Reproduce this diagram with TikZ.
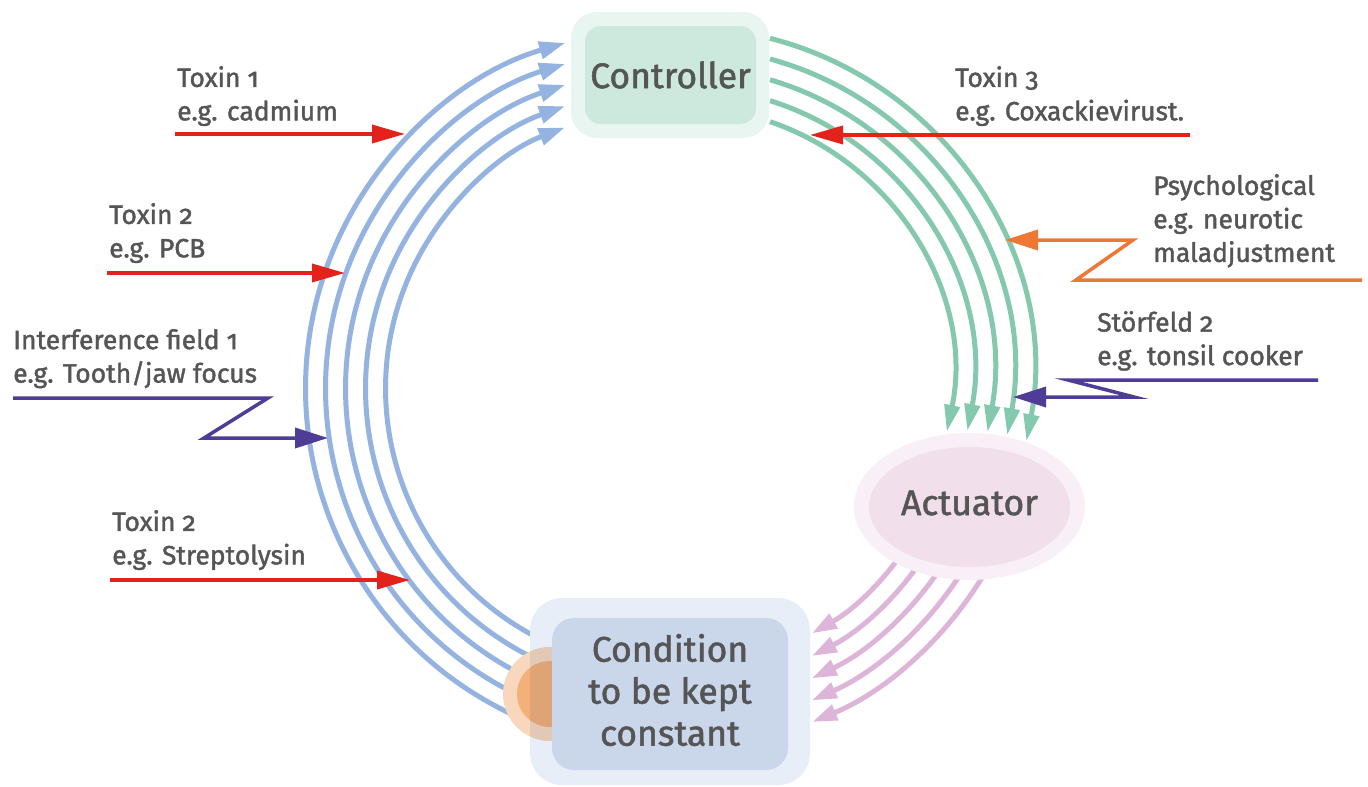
\documentclass[tikz,border=0pt]{standalone}
\usepackage{fontspec}
\setmainfont{Fira Sans}[Numbers=OldStyle, UprightFeatures={FakeBold=1.5}]
\usetikzlibrary{arrows.meta,calc}
\definecolor{txt}{HTML}{555555}
\definecolor{blueA}{HTML}{95B3E0}
\definecolor{greenA}{HTML}{84C9AE}
\definecolor{pinkA}{HTML}{DDB5D9}
\definecolor{redA}{HTML}{E3231B}
\definecolor{purpA}{HTML}{4E3C96}
\definecolor{orgA}{HTML}{EE7733}
\definecolor{ctrlOut}{HTML}{E9F5F1}
\definecolor{ctrlIn}{HTML}{CDE9DE}
\definecolor{condOut}{HTML}{E8EEF7}
\definecolor{condIn}{HTML}{CAD6EA}
\definecolor{actOut}{HTML}{F9EFF6}
\definecolor{actIn}{HTML}{F2DFEC}
\definecolor{ringA}{HTML}{F8D7BC}
\definecolor{dotA}{HTML}{F4B079}
\definecolor{ringB}{HTML}{E2C9B6}
\definecolor{dotB}{HTML}{DEA475}
\tikzset{
  lbl/.style={font=\fontsize{26.5}{33.5}\selectfont, text=txt, align=left, anchor=north west, inner sep=0pt},
  boxtxt/.style={font=\fontsize{35.5}{42}\selectfont, text=txt, align=center, inner sep=0pt},
  bluearc/.style={draw=blueA, line width=5pt, -{Triangle[length=26pt,width=17pt]}},
  greenarc/.style={draw=greenA, line width=5pt, -{Triangle[length=27pt,width=15pt]}},
  pinkarc/.style={draw=pinkA, line width=5pt, -{Triangle[length=25pt,width=16pt]}},
  redarr/.style={draw=redA, line width=3.5pt, -{Triangle[length=33pt,width=18pt]}},
  purparr/.style={draw=purpA, line width=3.5pt, line join=miter, -{Triangle[length=33pt,width=20pt]}},
  orgarr/.style={draw=orgA, line width=3.5pt, line join=miter, -{Triangle[length=33pt,width=20pt]}},
}
\begin{document}
\begin{tikzpicture}[x=1pt,y=1pt]
\useasboundingbox (0,0) rectangle (1368,-787);
\fill[white] (0,0) rectangle (1368,-787);
% arc centres
\coordinate (BC) at (665.6,-388.7);
\coordinate (GC) at (683.5,-376.4);
\coordinate (PC) at (672,-385);
% blue arcs (towards controller)
\foreach \i/\r/\a/\b in {1/360/106.2/245, 2/340/107.2/243, 3/320/108.3/242, 4/300/109.6/243, 5/280/111.1/242}{
  \coordinate (bs\i) at ($(BC)+(\b:\r)$);
  \draw[bluearc] (bs\i) arc[start angle=\b, end angle=\a, radius=\r];
}
% green arcs (controller to actuator)
\foreach \i/\r/\a/\b in {1/349/75.65/-10.7, 2/329/74.76/-10.3, 3/309/73.74/-10.4, 4/289/72.58/-10.9, 5/269/71.24/-11.9}{
  \coordinate (gs\i) at ($(GC)+(\a:\r)$);
  \draw[greenarc] (gs\i) arc[start angle=\a, end angle=\b, radius=\r];
}
% pink arcs (actuator to condition)
\foreach \i/\r/\b in {1/285/-60.6, 2/305/-62.7, 3/325/-64.5, 4/345/-66.1, 5/365/-67.4}{
  \coordinate (ps\i) at ($(PC)+(-28:\r)$);
  \draw[pinkarc] (ps\i) arc[start angle=-28, end angle=\b, radius=\r];
}
% orange sensor
\fill[ringA] (550,-694) circle[radius=47];
\fill[dotA] (550,-694) circle[radius=33];
% condition box
\node[fill=condOut, rounded corners=32pt, minimum width=280pt, minimum height=187pt, inner sep=0pt] (condo) at (670,-691.5) {};
\begin{scope}
  \clip[rounded corners=32pt] (530,-598) rectangle (810,-785);
  \fill[ringB] (550,-694) circle[radius=47];
  \fill[dotB] (550,-694) circle[radius=33];
\end{scope}
\node[fill=condIn, rounded corners=22pt, minimum width=236pt, minimum height=152pt, inner sep=0pt] (cond) at (670,-694) {};
\node[boxtxt] (condtxt) at (670,-690) {Condition\\to be kept\\constant};
% controller
\node[fill=ctrlOut, rounded corners=26pt, minimum width=198pt, minimum height=126pt, inner sep=0pt] (ctrlo) at (670,-75) {};
\node[fill=ctrlIn, rounded corners=16pt, minimum width=171pt, minimum height=98pt, boxtxt] (ctrl) at (670.5,-75) {Controller};
% actuator
\fill[actOut] (969.5,-506.5) ellipse[x radius=115.5, y radius=73.5];
\fill[actIn] (969.5,-507) ellipse[x radius=100.5, y radius=60];
\node[boxtxt] (act) at (969.5,-503) {Actuator};
% labels
\node[lbl] (t1) at (177,-66) {Toxin 1\\e.g. cadmium};
\node[lbl] (t2) at (109,-203) {Toxin 2\\e.g. PCB};
\node[lbl] (if1) at (13,-329) {Interference field 1\\e.g. Tooth/jaw focus};
\node[lbl] (t2b) at (112,-510) {Toxin 2\\e.g. Streptolysin};
\node[lbl] (t3) at (955,-66) {Toxin 3\\e.g. Coxackievirust.};
\node[lbl] (psy) at (1153,-174) {Psychological\\e.g. neurotic\\maladjustment};
\node[lbl] (sf2) at (1097,-311) {Störfeld 2\\e.g. tonsil cooker};
% disturbance arrows
\coordinate (r1a) at (175,-134); \coordinate (r1b) at (405,-134);
\draw[redarr] (r1a) -- (r1b);
\coordinate (r2a) at (107,-273); \coordinate (r2b) at (345,-273);
\draw[redarr] (r2a) -- (r2b);
\coordinate (r3a) at (110,-580); \coordinate (r3b) at (410,-580);
\draw[redarr] (r3a) -- (r3b);
\coordinate (r4a) at (1190,-135); \coordinate (r4b) at (810,-135);
\draw[redarr] (r4a) -- (r4b);
\coordinate (p1a) at (13,-398); \coordinate (p1b) at (328,-438);
\draw[purparr] (p1a) -- (268,-398) -- (204,-438) -- (p1b);
\coordinate (o1a) at (1362,-280); \coordinate (o1b) at (1005,-240);
\draw[orgarr] (o1a) -- (1076,-280) -- (1133,-240) -- (o1b);
\coordinate (p2a) at (1318,-380); \coordinate (p2b) at (1013,-397);
\draw[purparr] (p2a) -- (1068,-380) -- (1134,-397) -- (p2b);
\end{tikzpicture}
\end{document}
